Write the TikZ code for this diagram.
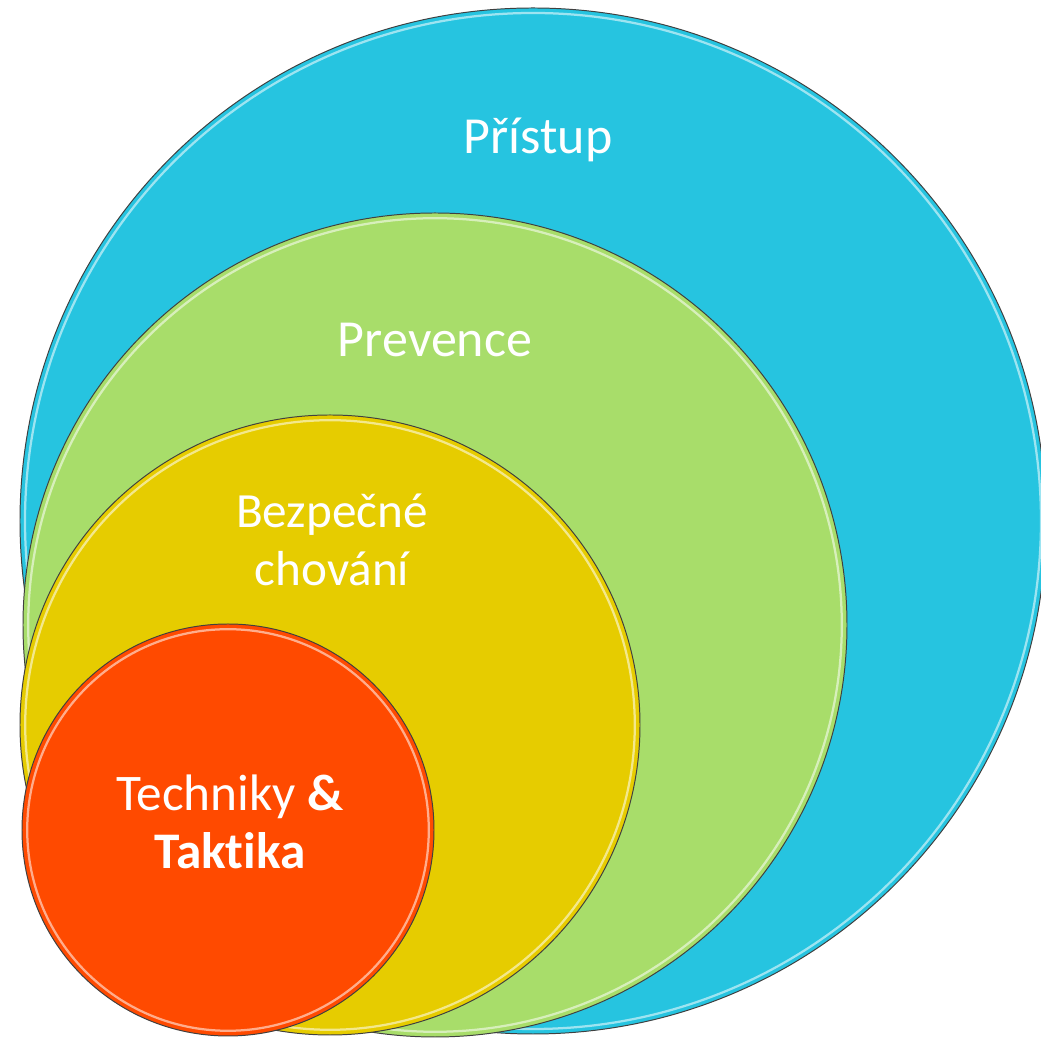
\documentclass[tikz,border=0pt]{standalone}
\usepackage{fontspec}
\setmainfont{Carlito}[Ligatures=NoCommon]
\usepackage{xcolor}
\usetikzlibrary{positioning}

\definecolor{pblue}{HTML}{26C4E0}
\definecolor{pgreen}{HTML}{A8DD6A}
\definecolor{pyellow}{HTML}{E6CC00}
\definecolor{pred}{HTML}{FF4A00}

\begin{document}
\begin{tikzpicture}[
    ring/.style = {
        circle, draw=black!75, line width=0.7pt, inner sep=0pt
    },
    shine/.style = {white, opacity=0.55, line width=1.6pt},
    label/.style = {
        text=white, align=center, inner sep=0pt
    }
  ]
    \useasboundingbox (0,0) rectangle (26.025,25.95);
    % kruhy od nejvetsiho
    \node[ring, fill=pblue, minimum size=25.65cm] (pristup) at (13.325,12.925) {};
    \draw[shine] (pristup.center) circle[radius=12.7cm];
    \node[ring, fill=pgreen, minimum size=20.6cm] (prevence) at (10.875,10.325) {};
    \draw[shine] (prevence.center) circle[radius=10.17cm];
    \node[ring, fill=pyellow, minimum size=15.5cm] (chovani) at (8.25,7.825) {};
    \draw[shine] (chovani.center) circle[radius=7.62cm];
    \node[ring, fill=pred, minimum size=10.3cm] (techniky) at (5.7,5.2) {};
    \draw[shine] (techniky.center) circle[radius=5.02cm];
    % popisky
    \node[label, font=\fontsize{37}{44}\selectfont] (tPristup) at (13.45,22.45) {Přístup};
    \node[label, font=\fontsize{37}{44}\selectfont] (tPrevence) at (10.875,17.45) {Prevence};
    \node[label, font=\fontsize{35}{41}\selectfont] (tChovani) at (8.3,12.45) {Bezpečné\\chování};
    \node[label, font=\fontsize{36.5}{41}\selectfont] (tTechniky) at (5.75,5.4) {Techniky \textbf{\&}\\\textbf{Taktika}};
\end{tikzpicture}
\end{document}
